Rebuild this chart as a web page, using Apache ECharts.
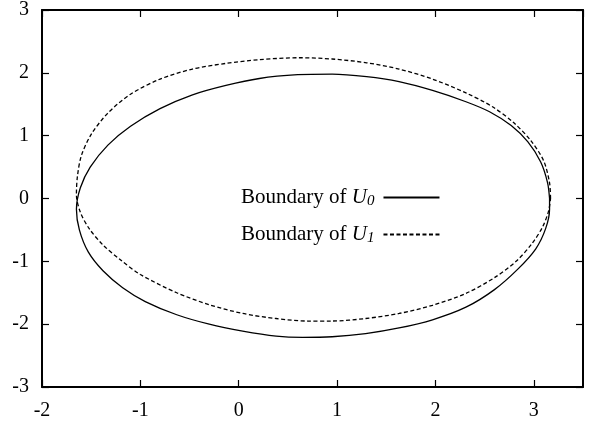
<!DOCTYPE html>
<html>
<head>
<meta charset="utf-8">
<script src="https://cdn.jsdelivr.net/npm/echarts@6/dist/echarts.min.js"></script>
<style>
  html, body { margin: 0; padding: 0; background: #fff; }
  #chart { width: 589px; height: 422px; }
</style>
</head>
<body>
<div id="chart"></div>
<script>
  // points, going round each boundary
  const boundaryU0 = [
    [3.16, 0.0], [3.14, 0.25], [3.07, 0.58], [2.94, 0.90], [2.77, 1.16], [2.55, 1.38],
    [2.31, 1.54], [1.97, 1.72], [1.63, 1.86], [1.30, 1.94], [0.95, 1.98], [0.60, 1.97],
    [0.21, 1.91], [-0.13, 1.80], [-0.47, 1.65], [-0.80, 1.43], [-1.10, 1.15], [-1.33, 0.85],
    [-1.51, 0.50], [-1.61, 0.17], [-1.65, -0.17], [-1.62, -0.50], [-1.53, -0.85],
    [-1.38, -1.15], [-1.18, -1.42], [-0.95, -1.64], [-0.63, -1.85], [-0.30, -2.00],
    [0.04, -2.11], [0.38, -2.19], [0.65, -2.21], [0.95, -2.20], [1.29, -2.15], [1.63, -2.06],
    [1.97, -1.93], [2.31, -1.73], [2.60, -1.45], [2.84, -1.12], [3.02, -0.80], [3.12, -0.48],
    [3.16, -0.17], [3.16, 0.0]
  ];
  const boundaryU1 = [
    [3.17, 0.0], [3.16, 0.25], [3.10, 0.60], [2.97, 0.92], [2.80, 1.20], [2.58, 1.46],
    [2.31, 1.68], [1.97, 1.90], [1.63, 2.06], [1.30, 2.16], [0.95, 2.22], [0.62, 2.24],
    [0.21, 2.21], [-0.13, 2.15], [-0.47, 2.06], [-0.80, 1.90], [-1.10, 1.66], [-1.33, 1.36],
    [-1.50, 1.02], [-1.60, 0.68], [-1.64, 0.35], [-1.65, 0.06], [-1.61, -0.22],
    [-1.52, -0.48], [-1.38, -0.74], [-1.20, -0.98], [-1.00, -1.21], [-0.63, -1.50],
    [-0.30, -1.69], [0.04, -1.83], [0.38, -1.91], [0.70, -1.95], [0.95, -1.95], [1.29, -1.91],
    [1.63, -1.83], [1.97, -1.70], [2.31, -1.51], [2.60, -1.26], [2.82, -1.00], [2.98, -0.72],
    [3.09, -0.45], [3.15, -0.20], [3.17, 0.0]
  ];
  const xTicks = { min: -2, max: 3.5, step: 1 };
  const yTicks = { min: -3, max: 3, step: 1 };

  const font = "'Liberation Serif', 'DejaVu Serif', serif";
  const chart = echarts.init(document.getElementById("chart"), null, { renderer: "canvas" });

  const axisBase = {
    type: "value",
    axisLine: { show: true, onZero: false, lineStyle: { color: "#000", width: 2 } },
    axisTick: { show: true, inside: true, length: 7, lineStyle: { color: "#000", width: 1.2 } },
    splitLine: { show: false },
  };
  const labelStyle = { color: "#000", fontFamily: font, fontSize: 20 };

  chart.setOption({
    animation: false,
    backgroundColor: "#fff",
    grid: { left: 42, right: 6, top: 8, bottom: 35 },
    xAxis: [
      Object.assign({}, axisBase, {
        position: "bottom",
        min: xTicks.min, max: xTicks.max, interval: xTicks.step,
        axisLabel: Object.assign({ margin: 14, showMaxLabel: false }, labelStyle),
      }),
      Object.assign({}, axisBase, {
        position: "top",
        min: xTicks.min, max: xTicks.max, interval: xTicks.step,
        axisLabel: { show: false },
      }),
    ],
    yAxis: [
      Object.assign({}, axisBase, {
        position: "left",
        min: yTicks.min, max: yTicks.max, interval: yTicks.step,
        axisLabel: Object.assign({ margin: 13 }, labelStyle),
      }),
      Object.assign({}, axisBase, {
        position: "right",
        min: yTicks.min, max: yTicks.max, interval: yTicks.step,
        axisLabel: { show: false },
      }),
    ],
    legend: {
      orient: "vertical",
      left: 236,
      top: 182,
      align: "right",
      itemWidth: 56,
      itemHeight: 16,
      itemGap: 15,
      itemStyle: { opacity: 0 },
      textStyle: {
        color: "#000",
        fontFamily: font,
        fontSize: 21,
        rich: {
          t: { fontFamily: font, fontSize: 21, color: "#000" },
          u: { fontFamily: font, fontSize: 21, fontStyle: "italic", color: "#000" },
          s: { fontFamily: font, fontSize: 15, fontStyle: "italic", color: "#000", verticalAlign: "bottom", padding: [8, 4, 0, 0] },
        },
      },
      formatter: (name) => {
        const idx = name.slice(-1);
        return "{t|Boundary of }{u|U}{s|" + idx + "}";
      },
      data: ["U0", "U1"],
    },
    series: [
      {
        name: "U0",
        type: "line",
        data: boundaryU0,
        smooth: 0.3,
        showSymbol: false,
        symbol: "none",
        lineStyle: { color: "#000", width: 1.3, type: "solid" },
        itemStyle: { color: "#000" },
      },
      {
        name: "U1",
        type: "line",
        data: boundaryU1,
        smooth: 0.3,
        showSymbol: false,
        symbol: "none",
        lineStyle: { color: "#000", width: 1.3, type: [4, 2.5] },
        itemStyle: { color: "#000" },
      },
    ],
  });
</script>
</body>
</html>
